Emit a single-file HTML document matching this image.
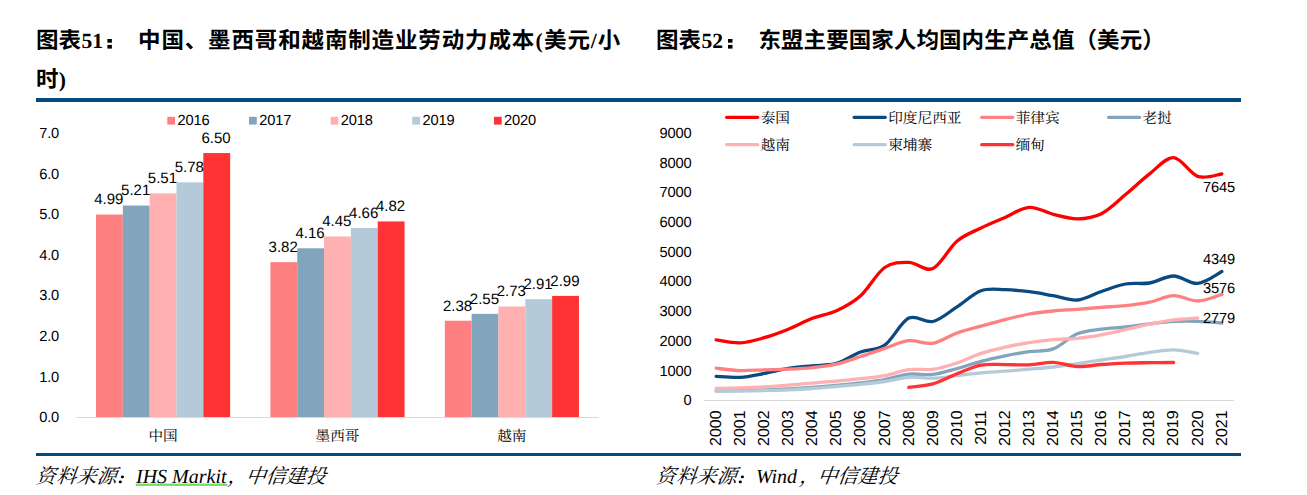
<!DOCTYPE html>
<html lang="zh-CN"><head><meta charset="utf-8"><title>图表51 / 图表52</title>
<style>
html,body{margin:0;padding:0;background:#fff;}
body{width:1307px;height:495px;overflow:hidden;font-family:"Liberation Sans",sans-serif;}
svg{display:block;}
text{fill:#000;text-rendering:geometricPrecision;}
</style></head><body>
<svg width="1307" height="495" viewBox="0 0 1307 495">
<rect width="1307" height="495" fill="#fff"/>
<rect x="36" y="98" width="1205" height="4" fill="#044a7e"/>
<rect x="36" y="453" width="1205" height="3" fill="#044a7e"/>
<g id="title51">
<text x="36.00" y="48.30" font-family="'Liberation Sans', 'Noto Sans CJK SC', sans-serif" font-size="22.5" font-weight="bold" text-anchor="start">图表</text>
<text x="81.40" y="48.00" font-family="'Liberation Serif', serif" font-size="21.6" font-weight="bold" font-style="normal" text-anchor="start" >51</text>
<g role="img" aria-label="："><rect x="107.40" y="39.0" width="4.5" height="3.7"/><rect x="107.40" y="44.9" width="4.5" height="3.7"/></g>
<text x="138.02" y="48.30" font-family="'Liberation Sans', 'Noto Sans CJK SC', sans-serif" font-size="22.5" font-weight="bold" text-anchor="start" letter-spacing="0.86">中国、墨西哥和越南制造业劳动力成本</text>
<text x="535.50" y="48.00" font-family="'Liberation Serif', serif" font-size="21.6" font-weight="bold" font-style="normal" text-anchor="start" >(</text>
<text x="544.05" y="48.30" font-family="'Liberation Sans', 'Noto Sans CJK SC', sans-serif" font-size="22.5" font-weight="bold" text-anchor="start" letter-spacing="0.86">美元</text>
<text x="590.80" y="48.00" font-family="'Liberation Serif', serif" font-size="21.6" font-weight="bold" font-style="normal" text-anchor="start" >/</text>
<text x="597.71" y="48.30" font-family="'Liberation Sans', 'Noto Sans CJK SC', sans-serif" font-size="22.5" font-weight="bold" text-anchor="start">小</text>
<text x="36.00" y="87.30" font-family="'Liberation Sans', 'Noto Sans CJK SC', sans-serif" font-size="22.5" font-weight="bold" text-anchor="start">时</text>
<text x="58.70" y="87.00" font-family="'Liberation Serif', serif" font-size="21.6" font-weight="bold" font-style="normal" text-anchor="start" >)</text>
</g>
<g id="title52">
<text x="656.00" y="48.30" font-family="'Liberation Sans', 'Noto Sans CJK SC', sans-serif" font-size="22.5" font-weight="bold" text-anchor="start">图表</text>
<text x="701.40" y="48.00" font-family="'Liberation Serif', serif" font-size="21.6" font-weight="bold" font-style="normal" text-anchor="start" >52</text>
<g role="img" aria-label="："><rect x="728.00" y="39.0" width="4.5" height="3.7"/><rect x="728.00" y="44.9" width="4.5" height="3.7"/></g>
<text x="758.40" y="48.30" font-family="'Liberation Sans', 'Noto Sans CJK SC', sans-serif" font-size="22.5" font-weight="bold" text-anchor="start" letter-spacing="0.08">东盟主要国家人均国内生产总值（美元）</text>
</g>
<g id="chart51">
<line x1="76" x2="599" y1="417.5" y2="417.5" stroke="#D9D9D9" stroke-width="1"/>
<text x="39.20" y="422.25" font-family="'Liberation Sans', sans-serif" font-size="14.67" font-weight="normal" font-style="normal" text-anchor="start" letter-spacing="-0.15">0.0</text>
<text x="39.20" y="381.65" font-family="'Liberation Sans', sans-serif" font-size="14.67" font-weight="normal" font-style="normal" text-anchor="start" letter-spacing="-0.15">1.0</text>
<text x="39.20" y="341.05" font-family="'Liberation Sans', sans-serif" font-size="14.67" font-weight="normal" font-style="normal" text-anchor="start" letter-spacing="-0.15">2.0</text>
<text x="39.20" y="300.45" font-family="'Liberation Sans', sans-serif" font-size="14.67" font-weight="normal" font-style="normal" text-anchor="start" letter-spacing="-0.15">3.0</text>
<text x="39.20" y="259.85" font-family="'Liberation Sans', sans-serif" font-size="14.67" font-weight="normal" font-style="normal" text-anchor="start" letter-spacing="-0.15">4.0</text>
<text x="39.20" y="219.25" font-family="'Liberation Sans', sans-serif" font-size="14.67" font-weight="normal" font-style="normal" text-anchor="start" letter-spacing="-0.15">5.0</text>
<text x="39.20" y="178.65" font-family="'Liberation Sans', sans-serif" font-size="14.67" font-weight="normal" font-style="normal" text-anchor="start" letter-spacing="-0.15">6.0</text>
<text x="39.20" y="138.05" font-family="'Liberation Sans', sans-serif" font-size="14.67" font-weight="normal" font-style="normal" text-anchor="start" letter-spacing="-0.15">7.0</text>
<rect x="96.00" y="214.51" width="26.83" height="202.49" fill="#FF8080"/>
<rect x="122.83" y="205.55" width="26.83" height="211.45" fill="#82A5BE"/>
<rect x="149.66" y="193.34" width="26.83" height="223.66" fill="#FFB0B0"/>
<rect x="176.49" y="182.35" width="26.83" height="234.65" fill="#B4CAD8"/>
<rect x="203.32" y="153.05" width="26.83" height="263.95" fill="#FF3333"/>
<text x="108.81" y="204.31" font-family="'Liberation Sans', sans-serif" font-size="15.0" font-weight="normal" font-style="normal" text-anchor="middle" letter-spacing="0">4.99</text>
<text x="135.65" y="195.35" font-family="'Liberation Sans', sans-serif" font-size="15.0" font-weight="normal" font-style="normal" text-anchor="middle" letter-spacing="0">5.21</text>
<text x="162.47" y="183.14" font-family="'Liberation Sans', sans-serif" font-size="15.0" font-weight="normal" font-style="normal" text-anchor="middle" letter-spacing="0">5.51</text>
<text x="189.31" y="172.15" font-family="'Liberation Sans', sans-serif" font-size="15.0" font-weight="normal" font-style="normal" text-anchor="middle" letter-spacing="0">5.78</text>
<text x="216.13" y="142.85" font-family="'Liberation Sans', sans-serif" font-size="15.0" font-weight="normal" font-style="normal" text-anchor="middle" letter-spacing="0">6.50</text>
<text x="148.41" y="441.00" font-family="'Liberation Serif', 'Noto Serif CJK SC', serif" font-size="14.67" text-anchor="start">中国</text>
<rect x="270.40" y="262.13" width="26.83" height="154.87" fill="#FF8080"/>
<rect x="297.23" y="248.29" width="26.83" height="168.71" fill="#82A5BE"/>
<rect x="324.06" y="236.49" width="26.83" height="180.51" fill="#FFB0B0"/>
<rect x="350.89" y="227.94" width="26.83" height="189.06" fill="#B4CAD8"/>
<rect x="377.72" y="221.43" width="26.83" height="195.57" fill="#FF3333"/>
<text x="283.21" y="251.93" font-family="'Liberation Sans', sans-serif" font-size="15.0" font-weight="normal" font-style="normal" text-anchor="middle" letter-spacing="0">3.82</text>
<text x="310.04" y="238.09" font-family="'Liberation Sans', sans-serif" font-size="15.0" font-weight="normal" font-style="normal" text-anchor="middle" letter-spacing="0">4.16</text>
<text x="336.87" y="226.29" font-family="'Liberation Sans', sans-serif" font-size="15.0" font-weight="normal" font-style="normal" text-anchor="middle" letter-spacing="0">4.45</text>
<text x="363.70" y="217.74" font-family="'Liberation Sans', sans-serif" font-size="15.0" font-weight="normal" font-style="normal" text-anchor="middle" letter-spacing="0">4.66</text>
<text x="390.53" y="211.23" font-family="'Liberation Sans', sans-serif" font-size="15.0" font-weight="normal" font-style="normal" text-anchor="middle" letter-spacing="0">4.82</text>
<text x="315.47" y="441.00" font-family="'Liberation Serif', 'Noto Serif CJK SC', serif" font-size="14.67" text-anchor="start">墨西哥</text>
<rect x="444.80" y="320.73" width="26.83" height="96.27" fill="#FF8080"/>
<rect x="471.63" y="313.82" width="26.83" height="103.18" fill="#82A5BE"/>
<rect x="498.46" y="306.49" width="26.83" height="110.51" fill="#FFB0B0"/>
<rect x="525.29" y="299.16" width="26.83" height="117.84" fill="#B4CAD8"/>
<rect x="552.12" y="295.91" width="26.83" height="121.09" fill="#FF3333"/>
<text x="457.62" y="310.53" font-family="'Liberation Sans', sans-serif" font-size="15.0" font-weight="normal" font-style="normal" text-anchor="middle" letter-spacing="0">2.38</text>
<text x="484.44" y="303.62" font-family="'Liberation Sans', sans-serif" font-size="15.0" font-weight="normal" font-style="normal" text-anchor="middle" letter-spacing="0">2.55</text>
<text x="511.28" y="296.29" font-family="'Liberation Sans', sans-serif" font-size="15.0" font-weight="normal" font-style="normal" text-anchor="middle" letter-spacing="0">2.73</text>
<text x="538.10" y="288.96" font-family="'Liberation Sans', sans-serif" font-size="15.0" font-weight="normal" font-style="normal" text-anchor="middle" letter-spacing="0">2.91</text>
<text x="564.93" y="285.71" font-family="'Liberation Sans', sans-serif" font-size="15.0" font-weight="normal" font-style="normal" text-anchor="middle" letter-spacing="0">2.99</text>
<text x="497.20" y="441.00" font-family="'Liberation Serif', 'Noto Serif CJK SC', serif" font-size="14.67" text-anchor="start">越南</text>
<rect x="167.30" y="116.8" width="7.8" height="7.8" fill="#FF8080"/>
<text x="177.50" y="125.00" font-family="'Liberation Sans', sans-serif" font-size="14.67" font-weight="normal" font-style="normal" text-anchor="start" letter-spacing="-0.15">2016</text>
<rect x="248.95" y="116.8" width="7.8" height="7.8" fill="#82A5BE"/>
<text x="259.15" y="125.00" font-family="'Liberation Sans', sans-serif" font-size="14.67" font-weight="normal" font-style="normal" text-anchor="start" letter-spacing="-0.15">2017</text>
<rect x="330.60" y="116.8" width="7.8" height="7.8" fill="#FFB0B0"/>
<text x="340.80" y="125.00" font-family="'Liberation Sans', sans-serif" font-size="14.67" font-weight="normal" font-style="normal" text-anchor="start" letter-spacing="-0.15">2018</text>
<rect x="412.25" y="116.8" width="7.8" height="7.8" fill="#B4CAD8"/>
<text x="422.45" y="125.00" font-family="'Liberation Sans', sans-serif" font-size="14.67" font-weight="normal" font-style="normal" text-anchor="start" letter-spacing="-0.15">2019</text>
<rect x="493.90" y="116.8" width="7.8" height="7.8" fill="#FF3333"/>
<text x="504.10" y="125.00" font-family="'Liberation Sans', sans-serif" font-size="14.67" font-weight="normal" font-style="normal" text-anchor="start" letter-spacing="-0.15">2020</text>
</g>
<g id="chart52">
<line x1="704" x2="1234" y1="400.5" y2="400.5" stroke="#D9D9D9" stroke-width="1"/>
<text x="691.40" y="405.25" font-family="'Liberation Sans', sans-serif" font-size="14.67" font-weight="normal" font-style="normal" text-anchor="end" letter-spacing="-0.15">0</text>
<text x="691.40" y="375.56" font-family="'Liberation Sans', sans-serif" font-size="14.67" font-weight="normal" font-style="normal" text-anchor="end" letter-spacing="-0.15">1000</text>
<text x="691.40" y="345.87" font-family="'Liberation Sans', sans-serif" font-size="14.67" font-weight="normal" font-style="normal" text-anchor="end" letter-spacing="-0.15">2000</text>
<text x="691.40" y="316.18" font-family="'Liberation Sans', sans-serif" font-size="14.67" font-weight="normal" font-style="normal" text-anchor="end" letter-spacing="-0.15">3000</text>
<text x="691.40" y="286.49" font-family="'Liberation Sans', sans-serif" font-size="14.67" font-weight="normal" font-style="normal" text-anchor="end" letter-spacing="-0.15">4000</text>
<text x="691.40" y="256.80" font-family="'Liberation Sans', sans-serif" font-size="14.67" font-weight="normal" font-style="normal" text-anchor="end" letter-spacing="-0.15">5000</text>
<text x="691.40" y="227.11" font-family="'Liberation Sans', sans-serif" font-size="14.67" font-weight="normal" font-style="normal" text-anchor="end" letter-spacing="-0.15">6000</text>
<text x="691.40" y="197.42" font-family="'Liberation Sans', sans-serif" font-size="14.67" font-weight="normal" font-style="normal" text-anchor="end" letter-spacing="-0.15">7000</text>
<text x="691.40" y="167.73" font-family="'Liberation Sans', sans-serif" font-size="14.67" font-weight="normal" font-style="normal" text-anchor="end" letter-spacing="-0.15">8000</text>
<text x="691.40" y="138.04" font-family="'Liberation Sans', sans-serif" font-size="14.67" font-weight="normal" font-style="normal" text-anchor="end" letter-spacing="-0.15">9000</text>
<text transform="translate(720.94 410.4) rotate(-90)" font-family="'Liberation Sans', sans-serif" font-size="16" text-anchor="end">2000</text>
<text transform="translate(745.02 410.4) rotate(-90)" font-family="'Liberation Sans', sans-serif" font-size="16" text-anchor="end">2001</text>
<text transform="translate(769.10 410.4) rotate(-90)" font-family="'Liberation Sans', sans-serif" font-size="16" text-anchor="end">2002</text>
<text transform="translate(793.18 410.4) rotate(-90)" font-family="'Liberation Sans', sans-serif" font-size="16" text-anchor="end">2003</text>
<text transform="translate(817.26 410.4) rotate(-90)" font-family="'Liberation Sans', sans-serif" font-size="16" text-anchor="end">2004</text>
<text transform="translate(841.34 410.4) rotate(-90)" font-family="'Liberation Sans', sans-serif" font-size="16" text-anchor="end">2005</text>
<text transform="translate(865.42 410.4) rotate(-90)" font-family="'Liberation Sans', sans-serif" font-size="16" text-anchor="end">2006</text>
<text transform="translate(889.50 410.4) rotate(-90)" font-family="'Liberation Sans', sans-serif" font-size="16" text-anchor="end">2007</text>
<text transform="translate(913.58 410.4) rotate(-90)" font-family="'Liberation Sans', sans-serif" font-size="16" text-anchor="end">2008</text>
<text transform="translate(937.66 410.4) rotate(-90)" font-family="'Liberation Sans', sans-serif" font-size="16" text-anchor="end">2009</text>
<text transform="translate(961.74 410.4) rotate(-90)" font-family="'Liberation Sans', sans-serif" font-size="16" text-anchor="end">2010</text>
<text transform="translate(985.82 410.4) rotate(-90)" font-family="'Liberation Sans', sans-serif" font-size="16" text-anchor="end">2011</text>
<text transform="translate(1009.90 410.4) rotate(-90)" font-family="'Liberation Sans', sans-serif" font-size="16" text-anchor="end">2012</text>
<text transform="translate(1033.98 410.4) rotate(-90)" font-family="'Liberation Sans', sans-serif" font-size="16" text-anchor="end">2013</text>
<text transform="translate(1058.06 410.4) rotate(-90)" font-family="'Liberation Sans', sans-serif" font-size="16" text-anchor="end">2014</text>
<text transform="translate(1082.14 410.4) rotate(-90)" font-family="'Liberation Sans', sans-serif" font-size="16" text-anchor="end">2015</text>
<text transform="translate(1106.22 410.4) rotate(-90)" font-family="'Liberation Sans', sans-serif" font-size="16" text-anchor="end">2016</text>
<text transform="translate(1130.30 410.4) rotate(-90)" font-family="'Liberation Sans', sans-serif" font-size="16" text-anchor="end">2017</text>
<text transform="translate(1154.38 410.4) rotate(-90)" font-family="'Liberation Sans', sans-serif" font-size="16" text-anchor="end">2018</text>
<text transform="translate(1178.46 410.4) rotate(-90)" font-family="'Liberation Sans', sans-serif" font-size="16" text-anchor="end">2019</text>
<text transform="translate(1202.54 410.4) rotate(-90)" font-family="'Liberation Sans', sans-serif" font-size="16" text-anchor="end">2020</text>
<text transform="translate(1226.62 410.4) rotate(-90)" font-family="'Liberation Sans', sans-serif" font-size="16" text-anchor="end">2021</text>
<path d="M716.14 339.90C720.15 340.40 732.19 343.27 740.22 342.90C748.25 342.53 756.27 339.98 764.30 337.70C772.33 335.42 780.35 332.43 788.38 329.20C796.41 325.97 804.43 321.37 812.46 318.30C820.49 315.23 828.51 314.55 836.54 310.80C844.57 307.05 852.59 303.02 860.62 295.80C868.65 288.58 876.67 273.07 884.70 267.50C892.73 261.93 900.75 262.23 908.78 262.40C916.81 262.57 924.83 272.03 932.86 268.50C940.89 264.97 948.91 247.95 956.94 241.20C964.97 234.45 972.99 231.97 981.02 228.00C989.05 224.03 997.07 220.85 1005.10 217.40C1013.13 213.95 1021.15 207.82 1029.18 207.30C1037.21 206.78 1045.23 212.38 1053.26 214.30C1061.29 216.22 1069.31 218.90 1077.34 218.80C1085.37 218.70 1093.39 217.73 1101.42 213.70C1109.45 209.67 1117.47 201.23 1125.50 194.60C1133.53 187.97 1141.55 180.07 1149.58 173.90C1157.61 167.73 1165.63 157.18 1173.66 157.60C1181.69 158.02 1189.71 173.67 1197.74 176.40C1205.77 179.13 1217.81 174.40 1221.82 174.00" fill="none" stroke="#FF0000" stroke-width="3.3" stroke-linecap="round" stroke-linejoin="round"/>
<path d="M716.14 376.30C720.15 376.47 732.19 377.78 740.22 377.30C748.25 376.82 756.27 374.88 764.30 373.40C772.33 371.92 780.35 369.67 788.38 368.40C796.41 367.13 804.43 366.63 812.46 365.80C820.49 364.97 828.51 365.70 836.54 363.40C844.57 361.10 852.59 355.03 860.62 352.00C868.65 348.97 876.67 350.85 884.70 345.20C892.73 339.55 900.75 322.05 908.78 318.10C916.81 314.15 924.83 323.37 932.86 321.50C940.89 319.63 948.91 312.03 956.94 306.90C964.97 301.77 972.99 293.57 981.02 290.70C989.05 287.83 997.07 289.53 1005.10 289.70C1013.13 289.87 1021.15 290.70 1029.18 291.70C1037.21 292.70 1045.23 294.32 1053.26 295.70C1061.29 297.08 1069.31 300.70 1077.34 300.00C1085.37 299.30 1093.39 294.17 1101.42 291.50C1109.45 288.83 1117.47 285.42 1125.50 284.00C1133.53 282.58 1141.55 284.33 1149.58 283.00C1157.61 281.67 1165.63 275.93 1173.66 276.00C1181.69 276.07 1189.71 284.15 1197.74 283.40C1205.77 282.65 1217.81 273.48 1221.82 271.50" fill="none" stroke="#0B4A7F" stroke-width="3.3" stroke-linecap="round" stroke-linejoin="round"/>
<path d="M716.14 368.20C720.15 368.60 732.19 370.33 740.22 370.60C748.25 370.87 756.27 370.03 764.30 369.80C772.33 369.57 780.35 369.57 788.38 369.20C796.41 368.83 804.43 368.45 812.46 367.60C820.49 366.75 828.51 365.95 836.54 364.10C844.57 362.25 852.59 359.12 860.62 356.50C868.65 353.88 876.67 351.03 884.70 348.40C892.73 345.77 900.75 341.55 908.78 340.70C916.81 339.85 924.83 344.58 932.86 343.30C940.89 342.02 948.91 335.85 956.94 333.00C964.97 330.15 972.99 328.43 981.02 326.20C989.05 323.97 997.07 321.63 1005.10 319.60C1013.13 317.57 1021.15 315.43 1029.18 314.00C1037.21 312.57 1045.23 311.78 1053.26 311.00C1061.29 310.22 1069.31 309.92 1077.34 309.30C1085.37 308.68 1093.39 307.90 1101.42 307.30C1109.45 306.70 1117.47 306.55 1125.50 305.70C1133.53 304.85 1141.55 303.88 1149.58 302.20C1157.61 300.52 1165.63 295.80 1173.66 295.60C1181.69 295.40 1189.71 301.20 1197.74 301.00C1205.77 300.80 1217.81 295.50 1221.82 294.40" fill="none" stroke="#FF8080" stroke-width="3.3" stroke-linecap="round" stroke-linejoin="round"/>
<path d="M716.14 390.80C720.15 390.75 732.19 390.63 740.22 390.50C748.25 390.37 756.27 390.25 764.30 390.00C772.33 389.75 780.35 389.42 788.38 389.00C796.41 388.58 804.43 388.08 812.46 387.50C820.49 386.92 828.51 386.25 836.54 385.50C844.57 384.75 852.59 383.97 860.62 383.00C868.65 382.03 876.67 381.17 884.70 379.70C892.73 378.23 900.75 375.08 908.78 374.20C916.81 373.32 924.83 375.33 932.86 374.40C940.89 373.47 948.91 370.78 956.94 368.60C964.97 366.42 972.99 363.43 981.02 361.30C989.05 359.17 997.07 357.42 1005.10 355.80C1013.13 354.18 1021.15 352.75 1029.18 351.60C1037.21 350.45 1045.23 351.87 1053.26 348.90C1061.29 345.93 1069.31 337.08 1077.34 333.80C1085.37 330.52 1093.39 330.33 1101.42 329.20C1109.45 328.07 1117.47 327.90 1125.50 327.00C1133.53 326.10 1141.55 324.73 1149.58 323.80C1157.61 322.87 1165.63 321.82 1173.66 321.40C1181.69 320.98 1189.71 321.02 1197.74 321.30C1205.77 321.58 1217.81 322.80 1221.82 323.10" fill="none" stroke="#82A5BE" stroke-width="3.3" stroke-linecap="round" stroke-linejoin="round"/>
<path d="M716.14 388.40C720.15 388.30 732.19 388.07 740.22 387.80C748.25 387.53 756.27 387.23 764.30 386.80C772.33 386.37 780.35 385.82 788.38 385.20C796.41 384.58 804.43 383.78 812.46 383.10C820.49 382.42 828.51 381.83 836.54 381.10C844.57 380.37 852.59 379.60 860.62 378.70C868.65 377.80 876.67 377.22 884.70 375.70C892.73 374.18 900.75 370.67 908.78 369.60C916.81 368.53 924.83 370.40 932.86 369.30C940.89 368.20 948.91 365.65 956.94 363.00C964.97 360.35 972.99 356.03 981.02 353.40C989.05 350.77 997.07 349.00 1005.10 347.20C1013.13 345.40 1021.15 343.87 1029.18 342.60C1037.21 341.33 1045.23 340.32 1053.26 339.60C1061.29 338.88 1069.31 339.10 1077.34 338.30C1085.37 337.50 1093.39 336.25 1101.42 334.80C1109.45 333.35 1117.47 331.37 1125.50 329.60C1133.53 327.83 1141.55 325.83 1149.58 324.20C1157.61 322.57 1165.63 320.83 1173.66 319.80C1181.69 318.77 1193.73 318.30 1197.74 318.00" fill="none" stroke="#FFB0B0" stroke-width="3.3" stroke-linecap="round" stroke-linejoin="round"/>
<path d="M716.14 391.20C720.15 391.17 732.19 391.12 740.22 391.00C748.25 390.88 756.27 390.70 764.30 390.50C772.33 390.30 780.35 390.13 788.38 389.80C796.41 389.47 804.43 389.05 812.46 388.50C820.49 387.95 828.51 387.20 836.54 386.50C844.57 385.80 852.59 385.13 860.62 384.30C868.65 383.47 876.67 382.67 884.70 381.50C892.73 380.33 900.75 377.85 908.78 377.30C916.81 376.75 924.83 378.47 932.86 378.20C940.89 377.93 948.91 376.60 956.94 375.70C964.97 374.80 972.99 373.55 981.02 372.80C989.05 372.05 997.07 371.80 1005.10 371.20C1013.13 370.60 1021.15 369.90 1029.18 369.20C1037.21 368.50 1045.23 367.93 1053.26 367.00C1061.29 366.07 1069.31 364.77 1077.34 363.60C1085.37 362.43 1093.39 361.18 1101.42 360.00C1109.45 358.82 1117.47 357.77 1125.50 356.50C1133.53 355.23 1141.55 353.52 1149.58 352.40C1157.61 351.28 1165.63 349.63 1173.66 349.80C1181.69 349.97 1193.73 352.80 1197.74 353.40" fill="none" stroke="#B4CAD8" stroke-width="3.3" stroke-linecap="round" stroke-linejoin="round"/>
<path d="M908.78 387.40C912.79 386.82 924.83 386.17 932.86 383.90C940.89 381.63 948.91 376.92 956.94 373.80C964.97 370.68 972.99 366.73 981.02 365.20C989.05 363.67 997.07 364.67 1005.10 364.60C1013.13 364.53 1021.15 365.18 1029.18 364.80C1037.21 364.42 1045.23 362.00 1053.26 362.30C1061.29 362.60 1069.31 366.23 1077.34 366.60C1085.37 366.97 1093.39 365.08 1101.42 364.50C1109.45 363.92 1117.47 363.40 1125.50 363.10C1133.53 362.80 1141.55 362.80 1149.58 362.70C1157.61 362.60 1169.65 362.53 1173.66 362.50" fill="none" stroke="#FF3333" stroke-width="3.3" stroke-linecap="round" stroke-linejoin="round"/>
<text x="1219.00" y="191.60" font-family="'Liberation Sans', sans-serif" font-size="14.67" font-weight="normal" font-style="normal" text-anchor="middle" letter-spacing="-0.15">7645</text>
<text x="1219.00" y="264.00" font-family="'Liberation Sans', sans-serif" font-size="14.67" font-weight="normal" font-style="normal" text-anchor="middle" letter-spacing="-0.15">4349</text>
<text x="1219.00" y="292.80" font-family="'Liberation Sans', sans-serif" font-size="14.67" font-weight="normal" font-style="normal" text-anchor="middle" letter-spacing="-0.15">3576</text>
<text x="1219.00" y="322.60" font-family="'Liberation Sans', sans-serif" font-size="14.67" font-weight="normal" font-style="normal" text-anchor="middle" letter-spacing="-0.15">2779</text>
<line x1="726.70" x2="757.70" y1="117.3" y2="117.3" stroke="#FF0000" stroke-width="3.3" stroke-linecap="round"/>
<text x="760.70" y="122.70" font-family="'Liberation Serif', 'Noto Serif CJK SC', serif" font-size="14.67" text-anchor="start">泰国</text>
<line x1="854.20" x2="885.20" y1="117.3" y2="117.3" stroke="#0B4A7F" stroke-width="3.3" stroke-linecap="round"/>
<text x="888.20" y="122.70" font-family="'Liberation Serif', 'Noto Serif CJK SC', serif" font-size="14.67" text-anchor="start">印度尼西亚</text>
<line x1="981.70" x2="1012.70" y1="117.3" y2="117.3" stroke="#FF8080" stroke-width="3.3" stroke-linecap="round"/>
<text x="1015.70" y="122.70" font-family="'Liberation Serif', 'Noto Serif CJK SC', serif" font-size="14.67" text-anchor="start">菲律宾</text>
<line x1="1108.60" x2="1139.60" y1="117.3" y2="117.3" stroke="#82A5BE" stroke-width="3.3" stroke-linecap="round"/>
<text x="1142.60" y="122.70" font-family="'Liberation Serif', 'Noto Serif CJK SC', serif" font-size="14.67" text-anchor="start">老挝</text>
<line x1="726.70" x2="757.70" y1="144.7" y2="144.7" stroke="#FFB0B0" stroke-width="3.3" stroke-linecap="round"/>
<text x="760.70" y="150.10" font-family="'Liberation Serif', 'Noto Serif CJK SC', serif" font-size="14.67" text-anchor="start">越南</text>
<line x1="854.20" x2="885.20" y1="144.7" y2="144.7" stroke="#B4CAD8" stroke-width="3.3" stroke-linecap="round"/>
<text x="888.20" y="150.10" font-family="'Liberation Serif', 'Noto Serif CJK SC', serif" font-size="14.67" text-anchor="start">柬埔寨</text>
<line x1="981.70" x2="1012.70" y1="144.7" y2="144.7" stroke="#FF3333" stroke-width="3.3" stroke-linecap="round"/>
<text x="1015.70" y="150.10" font-family="'Liberation Serif', 'Noto Serif CJK SC', serif" font-size="14.67" text-anchor="start">缅甸</text>
</g>
<g id="src51">
<text transform="translate(35.30 482.80) skewX(-20)" font-family="'Liberation Serif', 'Noto Serif CJK SC', serif" font-size="20" text-anchor="start" letter-spacing="0.35">资料来源</text>
<g role="img" aria-label="："><ellipse cx="122.40" cy="476.9" rx="1.6" ry="1.45"/><ellipse cx="120.30" cy="481.9" rx="1.6" ry="1.45"/></g>
<text x="136.00" y="482.60" font-family="'Liberation Serif', serif" font-size="20.0" font-weight="normal" font-style="italic" text-anchor="start" >IHS Markit</text>
<rect x="135.8" y="483.6" width="91.5" height="2.3" fill="#70DD62"/>
<text transform="translate(227.20 482.60) skewX(-20)" font-family="'Liberation Serif', 'Noto Serif CJK SC', serif" font-size="20" text-anchor="start">，</text>
<text transform="translate(245.20 482.80) skewX(-20)" font-family="'Liberation Serif', 'Noto Serif CJK SC', serif" font-size="20" text-anchor="start">中信建投</text>
</g><g id="src52">
<text transform="translate(655.30 482.80) skewX(-20)" font-family="'Liberation Serif', 'Noto Serif CJK SC', serif" font-size="20" text-anchor="start" letter-spacing="0.35">资料来源</text>
<g role="img" aria-label="："><ellipse cx="742.40" cy="476.9" rx="1.6" ry="1.45"/><ellipse cx="740.30" cy="481.9" rx="1.6" ry="1.45"/></g>
<text x="756.00" y="482.60" font-family="'Liberation Serif', serif" font-size="20.0" font-weight="normal" font-style="italic" text-anchor="start" >Wind</text>
<text transform="translate(798.90 482.60) skewX(-20)" font-family="'Liberation Serif', 'Noto Serif CJK SC', serif" font-size="20" text-anchor="start">，</text>
<text transform="translate(816.90 482.80) skewX(-20)" font-family="'Liberation Serif', 'Noto Serif CJK SC', serif" font-size="20" text-anchor="start">中信建投</text>
</g>
</svg>
</body></html>
